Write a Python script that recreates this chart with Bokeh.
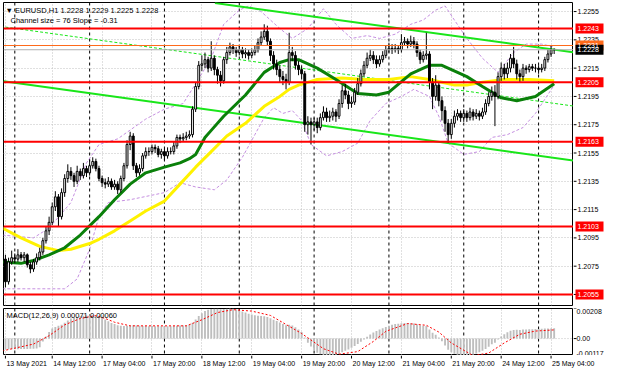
from bokeh.plotting import figure
from bokeh.models import Range1d, FixedTicker, Span, Label
from bokeh.layouts import column, row
from bokeh.embed import file_html
from bokeh.resources import INLINE
from bokeh.core.properties import value

FONT = "Liberation Sans"

# ---------------- data (EURUSD H1, 13 May 21:00 .. 25 May 05:00) ----------------
first_open = 1.2080
closes = [
    1.2064, 1.2078, 1.2081, 1.2080, 1.2083, 1.2081, 1.2083, 1.2076, 1.2073, 1.2078,
    1.2081, 1.2085, 1.2093, 1.2100, 1.2106, 1.2117, 1.2124, 1.2110, 1.2127, 1.2137,
    1.2142, 1.2139, 1.2135, 1.2142, 1.2139, 1.2144, 1.2141, 1.2146, 1.2149, 1.2144,
    1.2137, 1.2134, 1.2133, 1.2135, 1.2131, 1.2133, 1.2129, 1.2137, 1.2146, 1.2161,
    1.2167, 1.2146, 1.2141, 1.2144, 1.2153, 1.2156, 1.2156, 1.2159, 1.2158, 1.2154,
    1.2156, 1.2153, 1.2156, 1.2156, 1.2160, 1.2166, 1.2165, 1.2166, 1.2167, 1.2168,
    1.2186, 1.2202, 1.2217, 1.2218, 1.2221, 1.2215, 1.2222, 1.2214, 1.2210, 1.2206,
    1.2221, 1.2226, 1.2230, 1.2228, 1.2226, 1.2228, 1.2225, 1.2226, 1.2224, 1.2226,
    1.2228, 1.2233, 1.2237, 1.2241, 1.2234, 1.2224, 1.2218, 1.2214, 1.2209, 1.2207,
    1.2205, 1.2226, 1.2224, 1.2217, 1.2214, 1.2211, 1.2175, 1.2177, 1.2175, 1.2177,
    1.2173, 1.2180, 1.2184, 1.2180, 1.2181, 1.2184, 1.2181, 1.2190, 1.2199, 1.2196,
    1.2190, 1.2191, 1.2198, 1.2204, 1.2211, 1.2217, 1.2222, 1.2224, 1.2221, 1.2218,
    1.2221, 1.2224, 1.2228, 1.2229, 1.2228, 1.2229, 1.2228, 1.2233, 1.2234, 1.2232,
    1.2234, 1.2232, 1.2226, 1.2221, 1.2224, 1.2225, 1.2205, 1.2195, 1.2203, 1.2192,
    1.2185, 1.2176, 1.2168, 1.2176, 1.2181, 1.2183, 1.2180, 1.2183, 1.2180, 1.2184,
    1.2181, 1.2183, 1.2181, 1.2184, 1.2190, 1.2195, 1.2198, 1.2195, 1.2209, 1.2215,
    1.2211, 1.2215, 1.2222, 1.2218, 1.2211, 1.2209, 1.2215, 1.2214, 1.2216, 1.2215,
    1.2215, 1.2214, 1.2215, 1.2221, 1.2225, 1.2228, 1.2228,
]
highs = [
    1.2083, 1.2081, 1.2086, 1.2084, 1.2087, 1.2085, 1.2085, 1.2084, 1.2078, 1.2080,
    1.2084, 1.2088, 1.2095, 1.2103, 1.2110, 1.2120, 1.2128, 1.2126, 1.2130, 1.2140,
    1.2147, 1.2145, 1.2141, 1.2146, 1.2144, 1.2148, 1.2146, 1.2150, 1.2152, 1.2151,
    1.2146, 1.2139, 1.2137, 1.2138, 1.2137, 1.2136, 1.2135, 1.2139, 1.2148, 1.2164,
    1.2170, 1.2169, 1.2148, 1.2147, 1.2155, 1.2159, 1.2159, 1.2161, 1.2161, 1.2160,
    1.2158, 1.2158, 1.2159, 1.2159, 1.2163, 1.2168, 1.2168, 1.2169, 1.2170, 1.2171,
    1.2188, 1.2205, 1.2220, 1.2224, 1.2226, 1.2223, 1.2234, 1.2224, 1.2216, 1.2213,
    1.2223, 1.2230, 1.2233, 1.2232, 1.2230, 1.2231, 1.2230, 1.2229, 1.2228, 1.2229,
    1.2231, 1.2236, 1.2241, 1.2246, 1.2245, 1.2236, 1.2227, 1.2221, 1.2217, 1.2213,
    1.2211, 1.2240, 1.2230, 1.2227, 1.2220, 1.2217, 1.2213, 1.2181, 1.2180, 1.2180,
    1.2180, 1.2183, 1.2188, 1.2187, 1.2185, 1.2187, 1.2186, 1.2193, 1.2203, 1.2204,
    1.2199, 1.2195, 1.2201, 1.2208, 1.2214, 1.2220, 1.2226, 1.2228, 1.2227, 1.2224,
    1.2224, 1.2227, 1.2231, 1.2233, 1.2232, 1.2232, 1.2231, 1.2239, 1.2237, 1.2236,
    1.2238, 1.2237, 1.2234, 1.2228, 1.2227, 1.2240, 1.2227, 1.2208, 1.2210, 1.2205,
    1.2195, 1.2188, 1.2179, 1.2179, 1.2185, 1.2186, 1.2185, 1.2186, 1.2185, 1.2187,
    1.2186, 1.2186, 1.2185, 1.2187, 1.2193, 1.2198, 1.2202, 1.2203, 1.2212, 1.2219,
    1.2218, 1.2219, 1.2225, 1.2230, 1.2221, 1.2214, 1.2218, 1.2217, 1.2218, 1.2218,
    1.2218, 1.2217, 1.2218, 1.2223, 1.2228, 1.2231, 1.2229,
]
lows = [
    1.2060, 1.2062, 1.2076, 1.2077, 1.2078, 1.2079, 1.2078, 1.2074, 1.2070, 1.2071,
    1.2076, 1.2079, 1.2083, 1.2091, 1.2097, 1.2104, 1.2114, 1.2103, 1.2108, 1.2124,
    1.2134, 1.2136, 1.2131, 1.2133, 1.2136, 1.2137, 1.2138, 1.2139, 1.2144, 1.2142,
    1.2135, 1.2131, 1.2130, 1.2131, 1.2129, 1.2129, 1.2126, 1.2127, 1.2135, 1.2144,
    1.2157, 1.2143, 1.2138, 1.2139, 1.2142, 1.2151, 1.2153, 1.2154, 1.2155, 1.2152,
    1.2151, 1.2150, 1.2151, 1.2154, 1.2154, 1.2158, 1.2162, 1.2163, 1.2164, 1.2165,
    1.2166, 1.2184, 1.2200, 1.2213, 1.2215, 1.2212, 1.2213, 1.2210, 1.2204, 1.2202,
    1.2204, 1.2218, 1.2224, 1.2225, 1.2223, 1.2224, 1.2222, 1.2222, 1.2221, 1.2222,
    1.2224, 1.2226, 1.2231, 1.2235, 1.2231, 1.2220, 1.2214, 1.2210, 1.2205, 1.2203,
    1.2200, 1.2203, 1.2220, 1.2214, 1.2210, 1.2207, 1.2170, 1.2168, 1.2161, 1.2171,
    1.2169, 1.2171, 1.2178, 1.2177, 1.2177, 1.2178, 1.2177, 1.2179, 1.2187, 1.2193,
    1.2186, 1.2187, 1.2189, 1.2196, 1.2202, 1.2209, 1.2215, 1.2220, 1.2218, 1.2215,
    1.2216, 1.2219, 1.2222, 1.2226, 1.2225, 1.2226, 1.2225, 1.2226, 1.2231, 1.2229,
    1.2230, 1.2229, 1.2223, 1.2218, 1.2219, 1.2221, 1.2200, 1.2186, 1.2192, 1.2188,
    1.2178, 1.2170, 1.2162, 1.2165, 1.2173, 1.2178, 1.2177, 1.2177, 1.2177, 1.2178,
    1.2178, 1.2179, 1.2178, 1.2179, 1.2182, 1.2188, 1.2192, 1.2174, 1.2193, 1.2206,
    1.2207, 1.2208, 1.2212, 1.2215, 1.2207, 1.2205, 1.2206, 1.2211, 1.2212, 1.2213,
    1.2212, 1.2211, 1.2212, 1.2213, 1.2219, 1.2223, 1.2225,
]

# moving averages (sampled along the curve: bar index, price)
green_ma_bar = [-1, 5, 9, 14, 19, 24, 30, 35, 40, 45, 51, 56, 59, 61, 64, 66, 70, 77, 83, 88,
                91, 94, 100, 106, 113, 119, 123, 130, 136, 140, 145, 148, 153, 159, 164, 170, 176]
green_ma = [1.2078, 1.2077, 1.2079, 1.2083, 1.2088, 1.2097, 1.2110, 1.2122, 1.2133, 1.2141,
            1.2145, 1.2148, 1.2151, 1.2154, 1.2166, 1.2171, 1.2181, 1.2196, 1.2212, 1.2219,
            1.2221, 1.2221, 1.2215, 1.2207, 1.2197, 1.2196, 1.2198, 1.2211, 1.2217, 1.2217,
            1.2212, 1.2209, 1.2202, 1.2194, 1.2192, 1.2195, 1.2204]
yellow_ma_bar = [-1, 5, 11, 17, 21, 27, 30, 35, 40, 45, 51, 56, 61, 66, 71, 77, 83, 88, 91, 94,
                 100, 108, 115, 123, 130, 136, 140, 144, 148, 153, 160, 168, 176]
yellow_ma = [1.2102, 1.2095, 1.2089, 1.2086, 1.2087, 1.2091, 1.2094, 1.2100, 1.2107, 1.2114,
             1.2121, 1.2133, 1.2145, 1.2156, 1.2167, 1.2176, 1.2188, 1.2195, 1.2200, 1.2203,
             1.2207, 1.2208, 1.2207, 1.2207, 1.2209, 1.2207, 1.2205, 1.2203, 1.2203, 1.2205,
             1.2207, 1.2207, 1.2206]

# envelope bands (purple dashed)
band_up_bar = [-1, 9, 14, 21, 26, 30, 36, 45, 51, 57, 61, 66, 70, 75, 78, 82, 88, 92, 97, 102,
               106, 111, 116, 120, 125, 130, 134, 138, 141, 144, 148, 153, 158, 163, 167, 172, 176]
band_up = [1.2097, 1.2095, 1.2102, 1.2120, 1.2148, 1.2161, 1.2165, 1.2179, 1.2186, 1.2190,
           1.2204, 1.2222, 1.2246, 1.2256, 1.2259, 1.2255, 1.2243, 1.2236, 1.2243, 1.2257,
           1.2246, 1.2236, 1.2238, 1.2236, 1.2239, 1.2246, 1.2249, 1.2256, 1.2259, 1.2249,
           1.2236, 1.2222, 1.2212, 1.2226, 1.2232, 1.2232, 1.2230]
band_dn_bar = [-1, 11, 19, 23, 27, 30, 33, 40, 51, 56, 61, 67, 71, 76, 80, 83, 86, 89, 92, 95,
               98, 103, 108, 113, 117, 122, 127, 131, 136, 139, 142, 147, 152, 156, 161, 166, 170, 176]
band_dn = [1.2059, 1.2059, 1.2059, 1.2066, 1.2087, 1.2110, 1.2120, 1.2122, 1.2127, 1.2134,
           1.2131, 1.2129, 1.2136, 1.2152, 1.2168, 1.2180, 1.2187, 1.2183, 1.2185, 1.2178,
           1.2161, 1.2153, 1.2156, 1.2162, 1.2178, 1.2190, 1.2195, 1.2200, 1.2195, 1.2181,
           1.2162, 1.2154, 1.2156, 1.2166, 1.2168, 1.2173, 1.2183, 1.2203]

# regression channel (ends of the lines)
chan_upper_bar = [67.2, 182.2]
chan_upper = [1.22610, 1.22262]
chan_mid_bar = [-1.6, 182.2]
chan_mid = [1.22445, 1.21882]
chan_lower_bar = [-0.6, 182.2]
chan_lower = [1.22058, 1.21496]

red_levels = [1.2243, 1.2205, 1.2163, 1.2103, 1.2055]
ask_level = 1.2231
bid_level = 1.2228
price_ticks = [1.2055, 1.2075, 1.2095, 1.2115, 1.2135, 1.2155, 1.2175, 1.2195, 1.2215, 1.2235, 1.2255]

# MACD (12,26,9): histogram per bar and signal line, in units of 1e-5
macd_hist = [
    -75, -74, -74, -73, -73, -72, -72, -72, -71, -70,
    -68, -60, -20, 15, 45, 70, 80, 88, 95, 110,
    125, 139, 145, 150, 155, 158, 160, 161, 160, 157,
    152, 143, 132, 119, 108, 100, 93, 89, 87, 88,
    90, 92, 90, 88, 87, 87, 86, 87, 86, 86,
    86, 85, 85, 86, 87, 88, 90, 91, 92, 96,
    110, 132, 156, 176, 190, 199, 204, 207, 206, 203,
    205, 207, 208, 207, 201, 195, 188, 180, 172, 166,
    161, 158, 156, 154, 150, 140, 130, 121, 111, 101,
    92, 96, 90, 78, 62, 46, 8, -28, -55, -80,
    -98, -108, -114, -118, -120, -118, -112, -105, -95, -85,
    -75, -64, -52, -38, -22, -6, 12, 28, 42, 53,
    63, 72, 80, 88, 95, 100, 103, 106, 108, 108,
    106, 104, 99, 93, 89, 87, 62, 40, 27, 8,
    -18, -48, -78, -94, -105, -112, -117, -119, -120, -118,
    -112, -104, -95, -84, -72, -56, -40, -28, -6, 14,
    30, 43, 55, 60, 61, 60, 62, 63, 64, 65,
    66, 67, 68, 69, 70, 70, 71,
]
signal_bar = [-1, 9, 14, 19, 24, 29, 32, 35, 40, 48, 58, 63, 68, 73, 79, 85, 95, 102, 107, 113,
              118, 122, 129, 135, 139, 143, 150, 155, 160, 165, 170, 176]
signal = [-85, -38, 20, 95, 139, 159, 139, 113, 88, 88, 88, 130, 180, 200, 190, 160, 35, -70,
          -108, -90, -20, 50, 104, 92, 45, -30, -118, -100, -30, 30, 52, 60]
macd_max, macd_min = 0.00208, -0.00117

time_tick_bars = [0, 15, 31, 47, 63, 79, 95, 111, 127, 143, 159, 175]
time_labels = ["13 May 2021", "14 May 12:00", "17 May 04:00", "17 May 20:00", "18 May 12:00",
               "19 May 04:00", "19 May 20:00", "20 May 12:00", "21 May 04:00", "21 May 20:00",
               "24 May 12:00", "25 May 04:00"]
day_start_bars = [3, 27, 51, 75, 99, 123, 147, 171]

# ---------------- geometry ----------------
n = len(closes)
bars = list(range(n))
opens = [first_open] + closes[:-1]
X0, X1 = -0.625, 182.2
Y0, Y1 = 1.20472, 1.22614
FRAME_W, SCALE_W, LEFT = 570, 31, 3
x_range = Range1d(X0, X1)
GRID = "#C0C0C0"


def base(fig):
    fig.background_fill_color = "white"
    fig.border_fill_color = "white"
    fig.outline_line_color = "black"
    fig.outline_line_width = 1
    fig.xgrid.ticker = FixedTicker(ticks=time_tick_bars)
    fig.xgrid.grid_line_color = GRID
    fig.xgrid.grid_line_dash = "1 2"
    for b in day_start_bars:
        fig.add_layout(Span(location=b, dimension="height", line_color="black",
                            line_dash="3 3", line_width=1, level="underlay"))


def side(height, yr, top, bottom):
    s = figure(width=SCALE_W, height=height, x_range=Range1d(0, SCALE_W), y_range=yr,
               output_backend="svg", toolbar_location=None, x_axis_location=None,
               y_axis_location=None, min_border_left=0, min_border_right=0,
               min_border_top=top, min_border_bottom=bottom)
    s.outline_line_color = None
    s.background_fill_color = "white"
    s.border_fill_color = "white"
    s.xgrid.visible = False
    s.ygrid.visible = False
    return s


# ---------------- price panel ----------------
p = figure(width=LEFT + FRAME_W, height=306, x_range=x_range, y_range=Range1d(Y0, Y1),
           output_backend="svg", toolbar_location=None, x_axis_location=None,
           y_axis_location=None, min_border_left=LEFT, min_border_right=0,
           min_border_top=2, min_border_bottom=1)
base(p)
p.ygrid.ticker = FixedTicker(ticks=price_ticks)
p.ygrid.grid_line_color = GRID
p.ygrid.grid_line_dash = "1 2"

BAND = "#C58FE0"
p.line(band_up_bar, band_up, line_color=BAND, line_dash="3 2", line_width=1)
p.line(band_dn_bar, band_dn, line_color=BAND, line_dash="3 2", line_width=1)
LIME = "#19E619"
p.line(chan_mid_bar, chan_mid, line_color=LIME, line_dash="3 2", line_width=1)
p.line(chan_upper_bar, chan_upper, line_color=LIME, line_width=2)
p.line(chan_lower_bar, chan_lower, line_color=LIME, line_width=2)
p.line(yellow_ma_bar, yellow_ma, line_color="#FFF200", line_width=3)
p.line(green_ma_bar, green_ma, line_color="#0A800A", line_width=3)

p.segment(x0=bars, y0=lows, x1=bars, y1=highs, line_color="black", line_width=1)
up = [i for i in bars if closes[i] >= opens[i]]
dn = [i for i in bars if closes[i] < opens[i]]
p.vbar(x=up, top=[closes[i] for i in up], bottom=[opens[i] for i in up], width=0.6,
       fill_color="white", line_color="black", line_width=1)
p.vbar(x=dn, top=[opens[i] for i in dn], bottom=[closes[i] for i in dn], width=0.6,
       fill_color="black", line_color="black", line_width=1)

p.add_layout(Span(location=bid_level, dimension="width", line_color="#B0B0B0", line_width=1))
p.add_layout(Span(location=ask_level, dimension="width", line_color="#FF6A1A", line_width=1))
for lv in red_levels:
    p.add_layout(Span(location=lv, dimension="width", line_color="#FF0000", line_width=2))

header = f"\u25bc EURUSD,H1  {opens[-1]:.4f} {highs[-1]:.4f} {lows[-1]:.4f} {closes[-1]:.4f}"
p.add_layout(Label(x=X0, y=Y1, x_offset=2, y_offset=-3, text=header, text_font=FONT,
                   text_font_size="7.5px", text_color="black", text_baseline="top"))
p.add_layout(Label(x=X0, y=Y1, x_offset=7, y_offset=-13, text="Channel size = 76 Slope = -0.31",
                   text_font=FONT, text_font_size="7.5px", text_color="black",
                   text_baseline="top"))

# price scale on the right
ps = side(306, p.y_range, 2, 1)
ps.segment(x0=[0] * len(price_ticks), y0=price_ticks, x1=[3] * len(price_ticks), y1=price_ticks,
           line_color="black", line_width=1)
ps.text(x=[4] * len(price_ticks), y=price_ticks, text=[f"{t:.4f}" for t in price_ticks],
        text_font=value(FONT), text_font_size=value("7px"), text_color="black",
        text_baseline="middle", text_align="left")
tag_y = red_levels + [ask_level, bid_level]
tag_bg = ["#FF0000"] * len(red_levels) + ["#FF6A1A", "black"]
ps.rect(x=[16] * len(tag_y), y=tag_y, width=[28] * len(tag_y), height=10, height_units="screen",
        fill_color=tag_bg, line_color=None)
ps.text(x=[4] * len(tag_y), y=tag_y, text=[f"{t:.4f}" for t in tag_y],
        text_font=value(FONT), text_font_size=value("7px"), text_color="white",
        text_baseline="middle", text_align="left")

# ---------------- MACD panel ----------------
q = figure(width=LEFT + FRAME_W, height=49, x_range=x_range, y_range=Range1d(macd_min, macd_max),
           output_backend="svg", toolbar_location=None, x_axis_location=None,
           y_axis_location=None, min_border_left=LEFT, min_border_right=0,
           min_border_top=2, min_border_bottom=0)
base(q)
q.ygrid.visible = False
q.add_layout(Span(location=0, dimension="width", line_color=GRID, line_dash="1 2",
                  line_width=1, level="underlay"))
q.vbar(x=bars, top=[v * 1e-5 for v in macd_hist], bottom=0, width=0.6,
       fill_color="#BEBEBE", line_color=None)
q.line(signal_bar, [v * 1e-5 for v in signal], line_color="#FF0000", line_dash="2 2", line_width=1)
q.add_layout(Label(x=X0, y=macd_max, x_offset=3, y_offset=-2,
                   text=f"MACD(12,26,9) {macd_hist[-1] * 1e-5:.5f} {signal[-1] * 1e-5:.5f}",
                   text_font=FONT, text_font_size="7.5px", text_color="black",
                   text_baseline="top"))

qs = side(49, q.y_range, 2, 0)
macd_ticks = [macd_max, 0, macd_min]
qs.segment(x0=[0] * 3, y0=macd_ticks, x1=[3] * 3, y1=macd_ticks, line_color="black", line_width=1)
qs.text(x=[3] * 3, y=macd_ticks, text=[f"{macd_max:.5f}", "0.00", f"{macd_min:.5f}"],
        text_font=value(FONT), text_font_size=value("7px"), text_color="black",
        text_baseline=["top", "middle", "bottom"], text_align="left")

# ---------------- time axis ----------------
tf_width = LEFT + FRAME_W + SCALE_W
tf = figure(width=tf_width, height=17,
            x_range=Range1d(X0, X0 + (X1 - X0) * (FRAME_W + SCALE_W) / FRAME_W),
            y_range=Range1d(0, 17), output_backend="svg", toolbar_location=None,
            x_axis_location=None, y_axis_location=None, min_border_left=LEFT,
            min_border_right=0, min_border_top=0, min_border_bottom=0)
tf.outline_line_color = None
tf.background_fill_color = "white"
tf.border_fill_color = "white"
tf.xgrid.visible = False
tf.ygrid.visible = False
tf.segment(x0=time_tick_bars, y0=[17] * len(time_tick_bars), x1=time_tick_bars,
           y1=[14] * len(time_tick_bars), line_color="black", line_width=1)
tf.text(x=time_tick_bars, y=[13] * len(time_tick_bars), text=time_labels,
        text_font=value(FONT), text_font_size=value("7px"), text_color="black",
        text_baseline="top", text_align="left", x_offset=1)

layout = column(row(p, ps, spacing=0), row(q, qs, spacing=0), tf, spacing=0)
open("out.html", "w").write(file_html(layout, INLINE))
